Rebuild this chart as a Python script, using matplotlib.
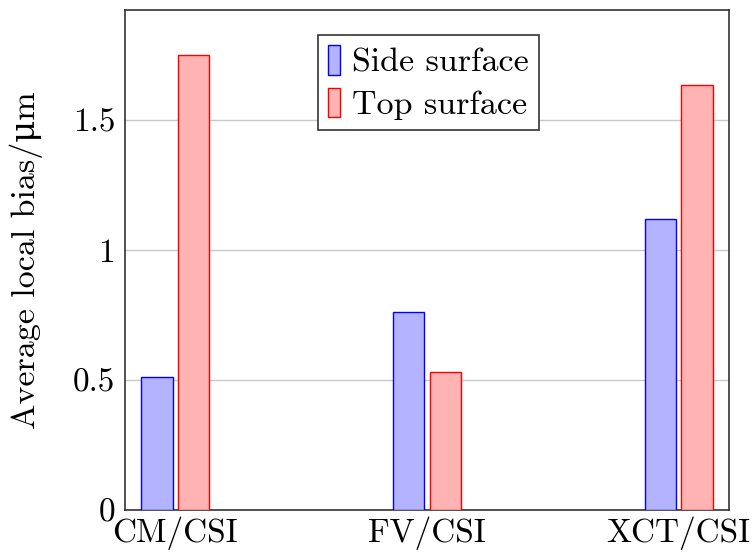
import numpy as np
import matplotlib.pyplot as plt

plt.rcParams['font.family'] = ['cmr10', 'DejaVu Serif']
plt.rcParams['axes.formatter.use_mathtext'] = True

methods = ['CM/CSI', 'FV/CSI', 'XCT/CSI']
side_surface = [0.51, 0.76, 1.12]
top_surface = [1.75, 0.53, 1.635]

x = np.arange(len(methods))
width = 0.125
shift = 0.073

fig = plt.figure(figsize=(7.56, 5.56), dpi=100)
ax = fig.add_axes([125 / 756, 46 / 556, 604 / 756, 500 / 556])

ax.bar(x - shift, side_surface, width, color='#b3b3ff', edgecolor='blue',
       linewidth=1.0, label='Side surface', zorder=3)
ax.bar(x + shift, top_surface, width, color='#ffb3b3', edgecolor='red',
       linewidth=1.0, label='Top surface', zorder=3)

ax.set_xlim(-0.2, 2.2)
ax.set_ylim(0, 1.923)
ax.set_xticks(x)
ax.set_xticklabels(methods)
ax.set_yticks([0, 0.5, 1, 1.5])
ax.set_yticklabels(['0', '0.5', '1', '1.5'])
ax.tick_params(axis='both', labelsize=24, length=0)
ax.tick_params(axis='x', pad=5)
ax.tick_params(axis='y', pad=7)
ax.yaxis.grid(True, color='#c8c8c8', linewidth=1.0, zorder=0)
ax.set_ylabel('Average local bias/μm', fontsize=24.5)
ax.yaxis.set_label_coords(-0.136, 0.5)

for s in ax.spines.values():
    s.set_color('#333333')
    s.set_linewidth(1.2)

leg = ax.legend(loc='upper left', bbox_to_anchor=(0.32, 0.95), fontsize=24.5,
                handlelength=0.33, handleheight=0.95, handletextpad=0.35,
                labelspacing=0.3, borderpad=0.3, borderaxespad=0,
                fancybox=False, framealpha=1, edgecolor='#333333')
leg.get_frame().set_linewidth(1.2)

fig.savefig('out.png', dpi=100)
